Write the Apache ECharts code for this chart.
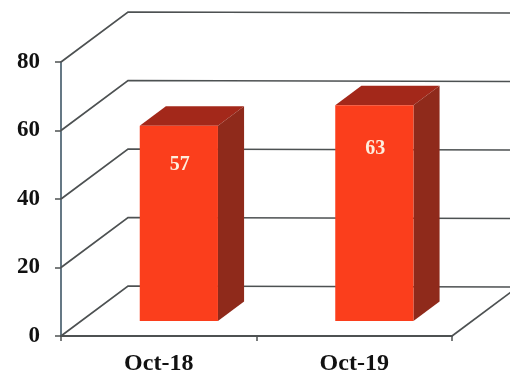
<!DOCTYPE html>
<html>
<head>
<meta charset="utf-8">
<style>html,body{margin:0;padding:0;background:#fff}#c{width:510px;height:376px}</style>
<script src="https://cdn.jsdelivr.net/npm/echarts@6/dist/echarts.min.js"></script>
</head>
<body>
<div id="c"></div>
<script>
var categories = ['Oct-18', 'Oct-19'];
var values = [57, 63];
var yTicks = [0, 20, 40, 60, 80];

var DX = 67, DY = -50;
var chart = echarts.init(document.getElementById('c'), null, {renderer: 'canvas'});

function renderWall(params, api) {
  var v = api.value(0);
  var cs = params.coordSys;
  var y = api.coord([0, v])[1];
  var right = cs.x + cs.width;
  var children = [{
    type: 'polyline',
    shape: {points: [[cs.x, y], [cs.x + DX, y + DY], [right + DX, y + DY + 1]]},
    style: {stroke: '#4d5152', lineWidth: 1.7, fill: null}
  }];
  if (v === 0) {
    children.push({
      type: 'line',
      shape: {x1: right, y1: y, x2: right + DX, y2: y + DY},
      style: {stroke: '#4d5152', lineWidth: 1.7}
    });
  }
  return {type: 'group', children: children};
}

function renderBar(params, api) {
  var c = api.value(0), v = api.value(1);
  var base = api.coord([c, 0]);
  var top = api.coord([c, v]);
  var band = api.size([1, 0])[0];
  var w = band * 0.4;
  var x0 = base[0] + DX * 0.3 - w / 2;
  var x1 = x0 + w;
  var yb = base[1] + DY * 0.3;
  var yt = top[1] + DY * 0.3;
  var dx = DX * 0.39, dy = DY * 0.39;
  return {type: 'group', children: [
    {type: 'polygon', shape: {points: [[x0, yt], [x1, yt], [x1 + dx, yt + dy], [x0 + dx, yt + dy]]},
      style: {fill: '#a3281a'}},
    {type: 'polygon', shape: {points: [[x1, yt], [x1 + dx, yt + dy], [x1 + dx, yb + dy], [x1, yb]]},
      style: {fill: '#8f2a1b'}},
    {type: 'rect', shape: {x: x0, y: yt, width: w, height: yb - yt},
      style: {fill: '#fb3e1c'}},
    {type: 'text', x: (x0 + x1) / 2 + 1, y: yb - (yb - yt) * 0.8,
      style: {text: String(v), fill: '#fdeedd', align: 'center', verticalAlign: 'middle',
        font: 'bold 20px "Liberation Serif", serif'}}
  ]};
}

chart.setOption({
  animation: false,
  backgroundColor: '#ffffff',
  grid: {left: 61, right: 58, top: 62, bottom: 39},
  xAxis: {
    type: 'category',
    data: categories,
    axisLine: {lineStyle: {color: '#4d5152', width: 1.8}},
    axisTick: {show: true, alignWithLabel: false, length: 5, lineStyle: {color: '#4d5152', width: 1.5}},
    axisLabel: {color: '#111', fontFamily: '"Liberation Serif", serif', fontWeight: 'bold', fontSize: 24, margin: 16}
  },
  yAxis: {
    type: 'value',
    min: 0, max: 80, interval: 20,
    splitLine: {show: false},
    axisLine: {show: true, lineStyle: {color: '#556a78', width: 1.8}},
    axisTick: {show: true, length: 6, lineStyle: {color: '#4d5152', width: 1.5}},
    axisLabel: {color: '#111', fontFamily: '"Liberation Serif", serif', fontWeight: 'bold', fontSize: 23, margin: 21}
  },
  series: [
    {type: 'custom', z: 1, silent: true, renderItem: renderWall, data: yTicks.map(function (t) { return [t]; }), clip: false, encode: {y: 0}},
    {type: 'custom', z: 3, silent: true, renderItem: renderBar, data: values.map(function (v, i) { return [i, v]; }), clip: false, encode: {x: 0, y: 1}}
  ]
});
</script>
</body>
</html>
